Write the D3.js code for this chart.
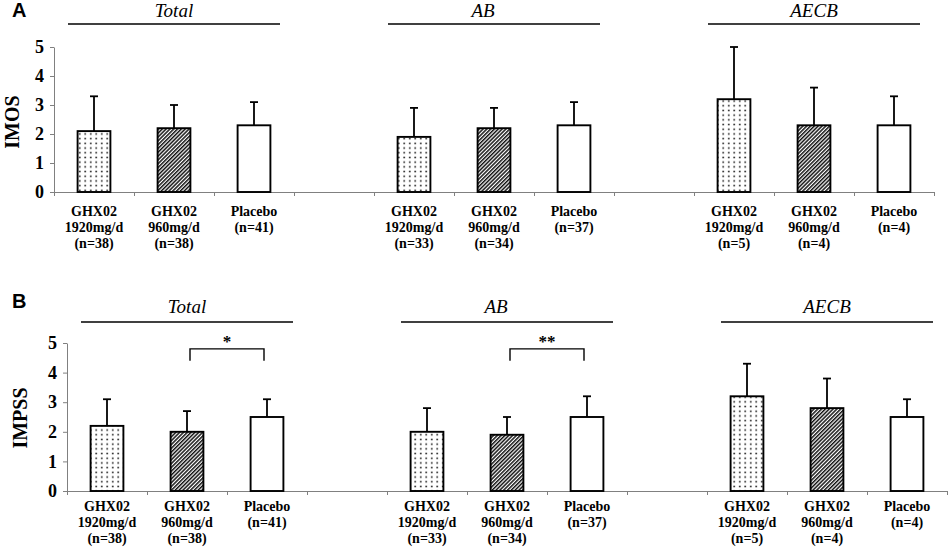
<!DOCTYPE html>
<html lang="en">
  <head>
    <meta charset="UTF-8" />
    <script src="https://d3js.org/d3.v7.min.js"></script>
    <title>IMOS / IMPSS</title>
    <style>
      body { margin: 0; background: #fff; }
      svg { display: block; }
      .serif { font-family: "Liberation Serif", "Times New Roman", serif; }
    </style>
  </head>
  <body>
    <svg width="948" height="552"></svg>
    <script>
      // data
      var groups = ["Total", "AB", "AECB"];
      var doseLabels = [
        ["GHX02", "1920mg/d"],
        ["GHX02", "960mg/d"],
        ["Placebo"],
      ];
      var nSizes = [38, 38, 41, 33, 34, 37, 5, 4, 4];
      var imosMean = [2.1, 2.2, 2.3, 1.9, 2.2, 2.3, 3.2, 2.3, 2.3];
      var imosSD = [1.2, 0.8, 0.8, 1.0, 0.7, 0.8, 1.8, 1.3, 1.0];
      var impssMean = [2.2, 2.0, 2.5, 2.0, 1.9, 2.5, 3.2, 2.8, 2.5];
      var impssSD = [0.9, 0.7, 0.6, 0.8, 0.6, 0.7, 1.1, 1.0, 0.6];
      var sigGroups = ["Total", "AB"];
      var sigLabels = ["*", "**"];
      var yTicks = [0, 1, 2, 3, 4, 5];

      var svg = d3.select("svg");
      var defs = svg.append("defs");

      var dots = defs
        .append("pattern")
        .attr("id", "dots")
        .attr("patternUnits", "userSpaceOnUse")
        .attr("width", 5.5)
        .attr("height", 4.7);
      dots.append("rect").attr("width", 5.5).attr("height", 4.7).attr("fill", "#fff");
      dots.append("circle").attr("cx", 2.75).attr("cy", 2.35).attr("r", 0.85).attr("fill", "#111");

      var hatch = defs
        .append("pattern")
        .attr("id", "hatch")
        .attr("patternUnits", "userSpaceOnUse")
        .attr("width", 2.7)
        .attr("height", 8)
        .attr("patternTransform", "rotate(45)");
      hatch.append("rect").attr("width", 2.7).attr("height", 8).attr("fill", "#fff");
      hatch
        .append("line")
        .attr("x1", 0.75).attr("x2", 0.75)
        .attr("y1", 0).attr("y2", 8)
        .attr("stroke", "#111")
        .attr("stroke-width", 1.5);

      var fills = ["url(#dots)", "url(#hatch)", "#fff"];

      // slots: three bars per group, an empty slot between groups
      var slots = [];
      groups.forEach(function (g, gi) {
        if (gi > 0) slots.push("gap" + gi);
        for (var k = 0; k < 3; k++) slots.push(g + "|" + k);
      });

      var panels = [
        {
          letter: "A", label: "IMOS", mean: imosMean, sd: imosSD,
          left: 54, y0: 192, y5: 47, labelY: 216,
          titleY: 17, lineY: 24, axisLabelX: 19, axisLabelY: 122, letterY: 17, sig: false,
        },
        {
          letter: "B", label: "IMPSS", mean: impssMean, sd: impssSD,
          left: 67, y0: 491, y5: 343, labelY: 511,
          titleY: 313, lineY: 322, axisLabelX: 27, axisLabelY: 418, letterY: 308, sig: true,
        },
      ];

      panels.forEach(function (p) {
        var x = d3.scaleBand().domain(slots).range([p.left, p.left + 880]);
        var xi = d3.scaleLinear().domain([0, slots.length]).range([p.left, p.left + 880]);
        var y = d3.scaleLinear().domain([0, 5]).range([p.y0, p.y5]);
        var bw = x.bandwidth() * 0.41;
        var g = svg.append("g");

        var rows = [];
        groups.forEach(function (grp, gi) {
          for (var k = 0; k < 3; k++) {
            var i = gi * 3 + k;
            rows.push({ slot: grp + "|" + k, dose: k, mean: p.mean[i], sd: p.sd[i], n: nSizes[i] });
          }
        });

        // axes
        var xa = g
          .append("g")
          .attr("transform", "translate(0," + p.y0 + ")")
          .call(
            d3.axisBottom(xi).tickValues(d3.range(slots.length + 1)).tickFormat("").tickSizeInner(4).tickSizeOuter(0)
          );
        xa.selectAll("path,line").attr("stroke", "#808080");

        var ya = g
          .append("g")
          .attr("transform", "translate(" + p.left + ",0)")
          .call(
            d3.axisLeft(y).tickValues(yTicks).tickFormat(d3.format("d")).tickSizeInner(4).tickSizeOuter(0).tickPadding(6)
          );
        ya.selectAll("path,line").attr("stroke", "#808080");
        ya.selectAll("text")
          .attr("class", "serif")
          .attr("font-size", 18)
          .attr("font-weight", "bold")
          .attr("fill", "#000");

        // error bars (upper whisker only)
        var eb = g.selectAll(".eb").data(rows).enter().append("g");
        eb.append("line")
          .attr("x1", function (d) { return x(d.slot) + x.bandwidth() / 2; })
          .attr("x2", function (d) { return x(d.slot) + x.bandwidth() / 2; })
          .attr("y1", function (d) { return y(d.mean); })
          .attr("y2", function (d) { return y(d.mean + d.sd); })
          .attr("stroke", "#000")
          .attr("stroke-width", 1.8);
        eb.append("line")
          .attr("x1", function (d) { return x(d.slot) + x.bandwidth() / 2 - 4; })
          .attr("x2", function (d) { return x(d.slot) + x.bandwidth() / 2 + 4; })
          .attr("y1", function (d) { return y(d.mean + d.sd); })
          .attr("y2", function (d) { return y(d.mean + d.sd); })
          .attr("stroke", "#000")
          .attr("stroke-width", 1.8);

        // bars
        g.selectAll(".bar")
          .data(rows)
          .enter()
          .append("rect")
          .attr("x", function (d) { return x(d.slot) + (x.bandwidth() - bw) / 2; })
          .attr("y", function (d) { return y(d.mean); })
          .attr("width", bw)
          .attr("height", function (d) { return y(0) - y(d.mean); })
          .attr("fill", function (d) { return fills[d.dose]; })
          .attr("stroke", "#000")
          .attr("stroke-width", 1.9);

        // category labels
        var lab = g
          .selectAll(".lab")
          .data(rows)
          .enter()
          .append("text")
          .attr("class", "serif")
          .attr("font-size", 14)
          .attr("font-weight", "bold")
          .attr("text-anchor", "middle")
          .attr("y", p.labelY);
        lab.each(function (d) {
          var lines = doseLabels[d.dose].concat(["(n=" + d.n + ")"]);
          var cx = x(d.slot) + x.bandwidth() / 2;
          d3.select(this)
            .selectAll("tspan")
            .data(lines)
            .enter()
            .append("tspan")
            .attr("x", cx)
            .attr("dy", function (t, i) { return i === 0 ? 0 : 16; })
            .text(function (t) { return t; });
        });

        // group headers
        groups.forEach(function (grp, gi) {
          var cx = x(grp + "|1") + x.bandwidth() / 2;
          g.append("line")
            .attr("x1", cx - 106).attr("x2", cx + 106)
            .attr("y1", p.lineY).attr("y2", p.lineY)
            .attr("stroke", "#000")
            .attr("stroke-width", 1.5);
          g.append("text")
            .attr("class", "serif")
            .attr("x", cx + (grp === "AB" ? -11 : 0))
            .attr("y", p.titleY)
            .attr("text-anchor", "middle")
            .attr("font-size", 19)
            .attr("font-style", "italic")
            .text(grp);
        });

        // significance brackets
        if (p.sig) {
          sigGroups.forEach(function (grp, si) {
            var xa1 = x(grp + "|1") + x.bandwidth() / 2 + 3;
            var xa2 = x(grp + "|2") + x.bandwidth() / 2 - 3;
            var top = y(4.8), leg = y(4.4);
            g.append("path")
              .attr("d", "M" + xa1 + "," + leg + "V" + top + "H" + xa2 + "V" + leg)
              .attr("fill", "none")
              .attr("stroke", "#000")
              .attr("stroke-width", 1.4);
            g.append("text")
              .attr("class", "serif")
              .attr("x", (xa1 + xa2) / 2)
              .attr("y", top - 2)
              .attr("text-anchor", "middle")
              .attr("font-size", 17)
              .attr("font-weight", "bold")
              .text(sigLabels[si]);
          });
        }

        // y label and panel letter
        g.append("text")
          .attr("class", "serif")
          .attr("transform", "translate(" + p.axisLabelX + "," + p.axisLabelY + ") rotate(-90)")
          .attr("text-anchor", "middle")
          .attr("font-size", 20)
          .attr("font-weight", "bold")
          .text(p.label);
        g.append("text")
          .attr("x", 12)
          .attr("y", p.letterY)
          .attr("font-family", "'Liberation Sans', Arial, sans-serif")
          .attr("font-size", 20)
          .attr("font-weight", "bold")
          .text(p.letter);
      });
    </script>
  </body>
</html>
